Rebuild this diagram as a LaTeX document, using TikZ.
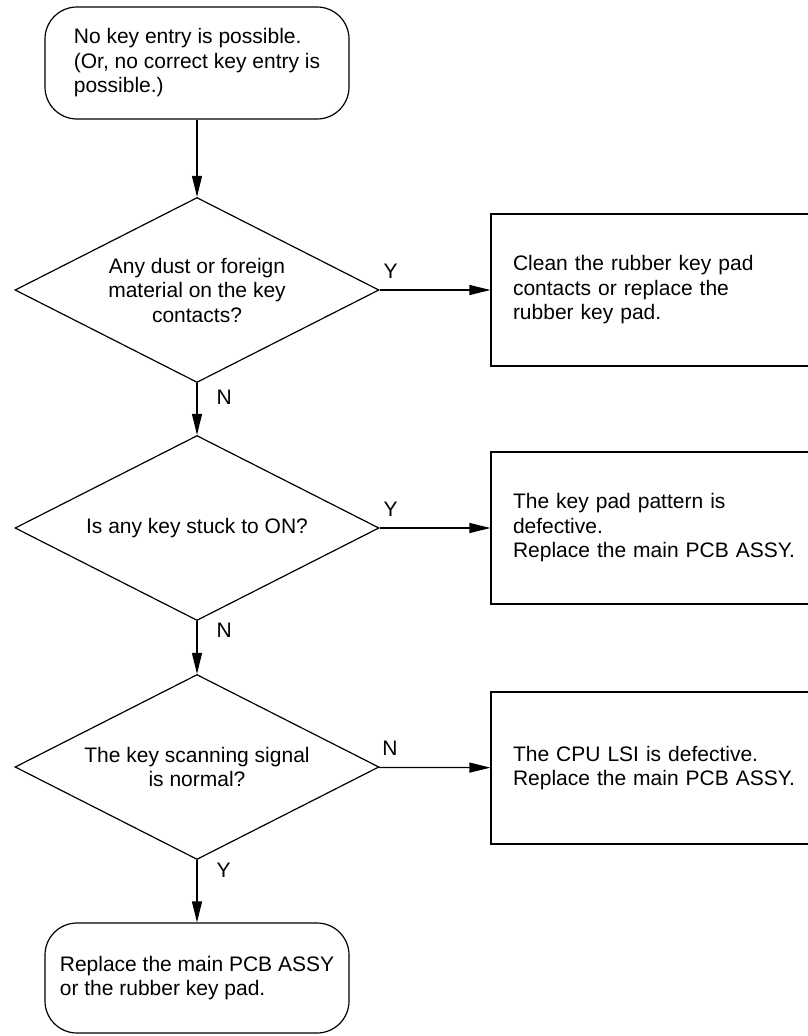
\documentclass[tikz,border=0pt]{standalone}
\usepackage{fontspec}
\setmainfont{Liberation Sans}
\usetikzlibrary{shapes.geometric, arrows.meta}

\tikzset{
    startstop/.style={draw, line width=1.2pt, rounded corners=32pt, minimum width=304pt, minimum height=112pt, align=left},
    decision/.style={draw, diamond, aspect=1.97, line width=1.2pt, minimum width=364pt, minimum height=185pt, inner sep=0pt, align=center},
    action/.style={draw, line width=1.2pt, minimum height=152pt, text width=286pt, inner xsep=22pt, align=left},
    arr/.style={-{Triangle[length=21pt, width=10pt]}, line width=1.2pt},
    lbl/.style={inner sep=2pt}
}

\begin{document}
\begin{tikzpicture}[x=1pt, y=-1pt, font=\fontsize{21}{24.5}\selectfont]
    \useasboundingbox (0,0) rectangle (807,1036);
    % start
    \node[startstop] (start) at (197,63) {No key entry is possible.\\(Or, no correct key entry is\\possible.)};
    % decisions
    \node[decision] (dust) at (197,290) {Any dust or foreign\\material on the key\\contacts?};
    \node[decision] (stuck) at (197,528) {Is any key stuck to ON?};
    \node[decision] (scan) at (197,767) {The key scanning signal\\is normal?};
    % actions
    \node[action] (clean) at (656,290) {Clean the rubber key pad\\contacts or replace the\\rubber key pad.};
    \node[action] (pattern) at (656,528) {The key pad pattern is\\defective.\\Replace the main PCB ASSY.};
    \node[action] (cpu) at (656,768) {The CPU LSI is defective.\\Replace the main PCB ASSY.};
    % end
    \node[startstop, minimum height=110pt] (finish) at (197,978) {Replace the main PCB ASSY\\or the rubber key pad.};
    % arrows
    \draw[arr] (start) -- (dust);
    \draw[arr] (dust) -- (stuck) node[lbl, pos=0.28, right=17pt]{N};
    \draw[arr] (stuck) -- (scan) node[lbl, pos=0.17, right=17pt]{N};
    \draw[arr] (scan) -- (finish) node[lbl, pos=0.16, right=17pt]{Y};
    \draw[arr] (dust) -- (clean) node[lbl, pos=0.1, above=9pt]{Y};
    \draw[arr] (stuck) -- (pattern) node[lbl, pos=0.1, above=9pt]{Y};
    \draw[arr] (scan) -- (cpu) node[lbl, pos=0.1, above=9pt]{N};
\end{tikzpicture}
\end{document}
